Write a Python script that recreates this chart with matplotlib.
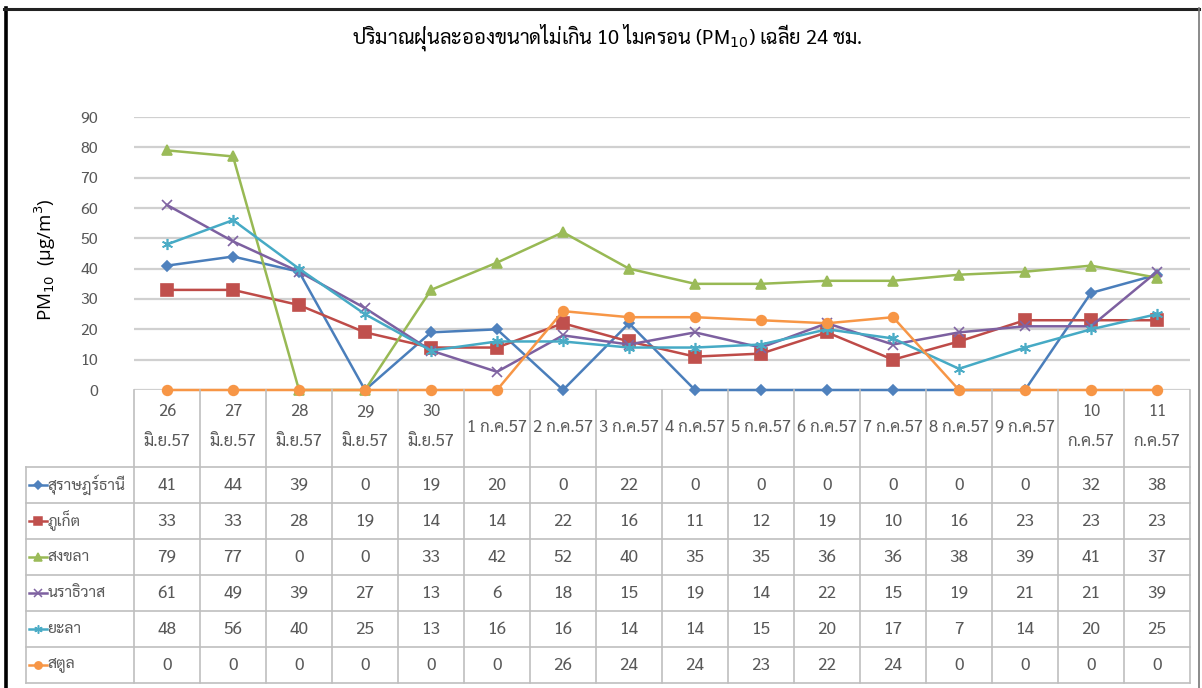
import matplotlib
matplotlib.use("Agg")
import matplotlib.pyplot as plt
from matplotlib.lines import Line2D
from matplotlib.transforms import blended_transform_factory
import numpy as np

THAI = ['Sarabun', 'Noto Sans Thai', 'DejaVu Sans']
plt.rcParams['font.family'] = THAI

# ---------------- data ----------------
categories = ["26\nมิ.ย.57", "27\nมิ.ย.57", "28\nมิ.ย.57", "29\nมิ.ย.57", "30\nมิ.ย.57",
              "1 ก.ค.57", "2 ก.ค.57", "3 ก.ค.57", "4 ก.ค.57", "5 ก.ค.57", "6 ก.ค.57",
              "7 ก.ค.57", "8 ก.ค.57", "9 ก.ค.57", "10\nก.ค.57", "11\nก.ค.57"]
series_names = ["สุราษฎร์ธานี", "ภูเก็ต", "สงขลา", "นราธิวาส", "ยะลา", "สตูล"]
surat = [41, 44, 39, 0, 19, 20, 0, 22, 0, 0, 0, 0, 0, 0, 32, 38]
phuket = [33, 33, 28, 19, 14, 14, 22, 16, 11, 12, 19, 10, 16, 23, 23, 23]
songkhla = [79, 77, 0, 0, 33, 42, 52, 40, 35, 35, 36, 36, 38, 39, 41, 37]
narathiwat = [61, 49, 39, 27, 13, 6, 18, 15, 19, 14, 22, 15, 19, 21, 21, 39]
yala = [48, 56, 40, 25, 13, 16, 16, 14, 14, 15, 20, 17, 7, 14, 20, 25]
satun = [0, 0, 0, 0, 0, 0, 26, 24, 24, 23, 22, 24, 0, 0, 0, 0]
yticks = [0, 10, 20, 30, 40, 50, 60, 70, 80, 90]
title_text = "ปริมาณฝุ่นละอองขนาดไม่เกิน 10 ไมครอน (PM$_{10}$) เฉลี่ย 24 ชม."
ylabel_text = "PM$_{10}$  (µg/m$^3$)"

series_values = [surat, phuket, songkhla, narathiwat, yala, satun]
line_colors = ["#4A7EBB", "#BE4B48", "#98B954", "#7D60A0", "#46AAC5", "#F79646"]
marker_colors = ["#4F81BD", "#C0504D", "#9BBB59", "#8064A2", "#4BACC6", "#F79646"]
markers = ["D", "s", "^", "x", (6, 2, 0), "o"]
msizes = [5, 8, 7, 7, 8, 7]

# ---------------- layout (pixels) ----------------
W, H = 1202, 688
fig = plt.figure(figsize=(W / 100, H / 100), dpi=100)

def fx(px):
    return px / W

def fy(py):
    return 1 - py / H

plot_l, plot_r = 134, 1190
plot_t, plot_b = 117, 390
ax = fig.add_axes([fx(plot_l), fy(plot_b), fx(plot_r) - fx(plot_l), fy(plot_t) - fy(plot_b)])
n = len(categories)
ax.set_xlim(-0.5, n - 0.5)
ax.set_ylim(0, 90)
ax.set_yticks(yticks)
ax.set_xticks([])
for s in ax.spines.values():
    s.set_visible(False)
ax.grid(False)
for yv in yticks:
    ax.axhline(yv, color="#D0D0D0", lw=1.6, zorder=0)
ax.tick_params(axis="y", length=0, pad=26, labelsize=11.5, labelcolor="#595959")

x = np.arange(n)
for vals, lc, mc, mk, ms in zip(series_values, line_colors, marker_colors, markers, msizes):
    ax.plot(x, vals, color=lc, lw=1.8, marker=mk, markersize=ms, markerfacecolor=mc,
            markeredgecolor=mc, markeredgewidth=1.2, clip_on=False, zorder=3)

# title and y-label
fig.text(fx(607), fy(38), title_text, ha="center", va="center", fontsize=14.5, color="#000000")
fig.text(fx(45), fy(260), ylabel_text, ha="center", va="center", rotation=90, fontsize=13.5,
         family=['Open Sans', 'DejaVu Sans'], color="#000000")

# ---------------- data table ----------------
grid_c = "#BFBFBF"
head_b = 467
row_h = 36
tab_l = 26
tab_r = plot_r
tab_b = head_b + row_h * len(series_names)

def hline(y, x0, x1, c=grid_c, lw=1.2):
    fig.add_artist(Line2D([fx(x0), fx(x1)], [fy(y), fy(y)], color=c, lw=lw))

def vline(xp, y0, y1, c=grid_c, lw=1.2):
    fig.add_artist(Line2D([fx(xp), fx(xp)], [fy(y0), fy(y1)], color=c, lw=lw))

col_w = (plot_r - plot_l) / n
for i in range(n + 1):
    vline(plot_l + i * col_w, plot_b, tab_b)
vline(tab_l, head_b, tab_b)
for r in range(len(series_names) + 1):
    hline(head_b + r * row_h, tab_l, tab_r)

tr = blended_transform_factory(ax.transData, fig.transFigure)
for i, lab in enumerate(categories):
    if "\n" in lab:
        top, bot = lab.split("\n")
        ax.text(i, fy(412), top, transform=tr, ha="center", va="center", fontsize=12, color="#595959")
        ax.text(i, fy(442), bot, transform=tr, ha="center", va="center", fontsize=12, color="#595959")
    else:
        ax.text(i, fy(427), lab, transform=tr, ha="center", va="center", fontsize=12, color="#595959")

for r, (name, vals) in enumerate(zip(series_names, series_values)):
    yc = head_b + r * row_h + row_h / 2
    for i, v in enumerate(vals):
        ax.text(i, fy(yc), str(v), transform=tr, ha="center", va="center", fontsize=12.5, color="#595959")
    # legend key
    fig.add_artist(Line2D([fx(29), fx(47)], [fy(yc), fy(yc)], color=line_colors[r], lw=1.8))
    fig.add_artist(Line2D([fx(38)], [fy(yc)], color=line_colors[r], lw=0,
                          marker=markers[r], markersize=msizes[r] * 0.75, markeredgewidth=1.1,
                          markerfacecolor=marker_colors[r], markeredgecolor=marker_colors[r]))
    fig.text(fx(47.5), fy(yc), name, ha="left", va="center", fontsize=11.3, color="#595959")

# outer frame
fig.add_artist(Line2D([fx(5.5), fx(5.5)], [fy(8), fy(H)], color="#000000", lw=2.6))
fig.add_artist(Line2D([fx(4), fx(1199)], [fy(8.5), fy(8.5)], color="#222222", lw=2.2))
fig.add_artist(Line2D([fx(1199), fx(1199)], [fy(8), fy(H)], color="#777777", lw=1.2))

fig.savefig("out.png", dpi=100, facecolor="white")
